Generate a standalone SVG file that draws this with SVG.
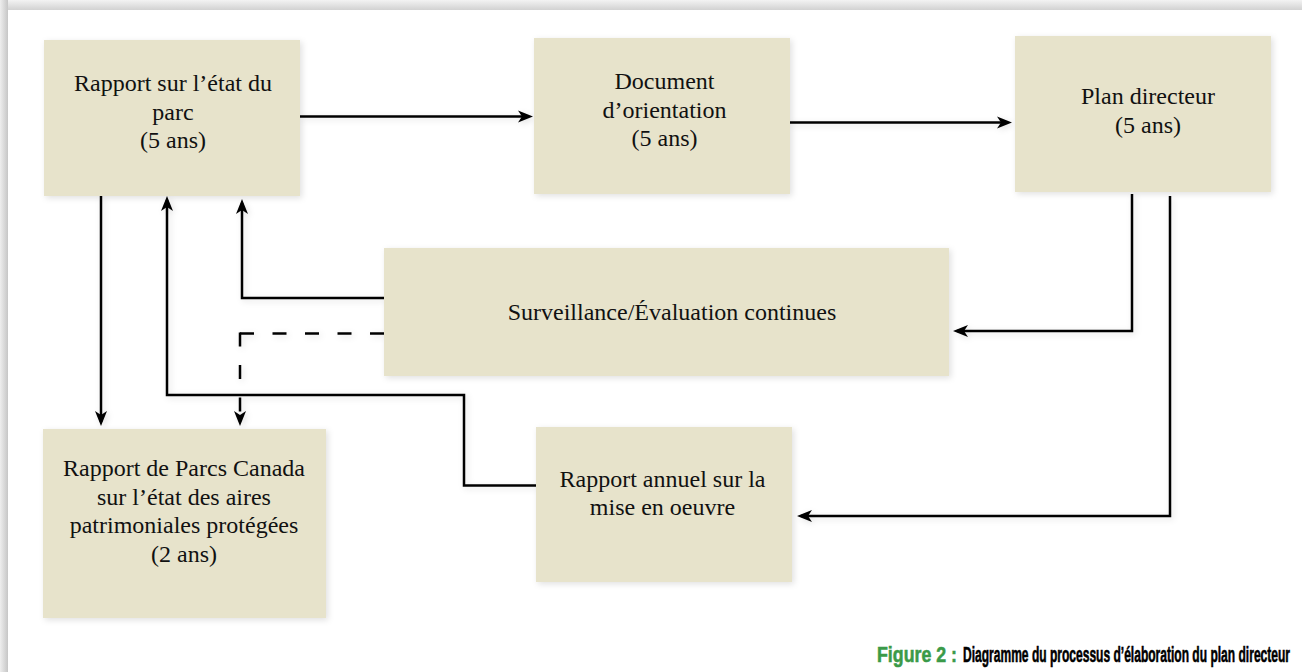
<svg xmlns="http://www.w3.org/2000/svg" width="1302" height="672" viewBox="0 0 1302 672">
<defs>
<linearGradient id="gTop" x1="0" y1="0" x2="0" y2="1"><stop offset="0" stop-color="#f3f3f3"/><stop offset="1" stop-color="#d2d2d2"/></linearGradient>
<linearGradient id="gLeft" x1="0" y1="0" x2="1" y2="0"><stop offset="0" stop-color="#eeeeee"/><stop offset="1" stop-color="#c6c6c6"/></linearGradient>
<filter id="sh" x="-10%" y="-10%" width="120%" height="120%"><feDropShadow dx="2" dy="2" stdDeviation="3" flood-color="#000" flood-opacity="0.12"/></filter>
<marker id="ah" markerUnits="userSpaceOnUse" markerWidth="16" markerHeight="14" refX="11" refY="7" orient="auto"><path d="M0,1 L15,7 L0,13 L4,7 Z" fill="#000"/></marker>
<style>
.box{fill:#e7e3cb;filter:url(#sh)}
.lbl{font-family:"Liberation Serif","Times New Roman",serif;font-size:24px;fill:#111;text-anchor:middle}
.ln{fill:none;stroke:#000;stroke-width:2.5}
.arr{marker-end:url(#ah)}
.dash{stroke-dasharray:14 18.5}
.cap{font-family:"Liberation Sans",Arial,sans-serif;font-weight:bold;font-size:11.6px;fill:#000;stroke:#000;stroke-width:0.3}
.capg{fill:#3a9a48;stroke:#3a9a48}
</style>
</defs>
<rect width="1302" height="672" fill="#ffffff"/>
<rect x="0" y="0" width="1302" height="10" fill="url(#gTop)"/>
<rect x="0" y="0" width="8" height="672" fill="url(#gLeft)"/>

<g id="connectors" filter="url(#sh)">
<path class="ln arr" d="M300,116.5 H529"/>
<path class="ln arr" d="M790,122.5 H1008"/>
<path class="ln arr" d="M101,196 V422"/>
<path class="ln arr" d="M536,485.5 H464 V395 H167 V200"/>
<path class="ln arr" d="M384,298 H242 V203"/>
<path class="ln dash" d="M384,333.5 H240"/>
<path class="ln dash arr" d="M240,332.5 V422"/>
<path class="ln arr" d="M1132,194 V331 H957"/>
<path class="ln arr" d="M1170,196 V516 H801"/>
</g>

<g id="n-rapport-etat">
<rect class="box" x="44" y="40" width="256" height="156"/>
<text class="lbl"><tspan x="173" y="91">Rapport sur l’état du</tspan><tspan x="173" y="119.5">parc</tspan><tspan x="173" y="148">(5 ans)</tspan></text>
</g>
<g id="n-document">
<rect class="box" x="534" y="38" width="256" height="156"/>
<text class="lbl"><tspan x="664.5" y="89">Document</tspan><tspan x="664.5" y="117.5">d’orientation</tspan><tspan x="664.5" y="146">(5 ans)</tspan></text>
</g>
<g id="n-plan">
<rect class="box" x="1015" y="36" width="256" height="156"/>
<text class="lbl"><tspan x="1148" y="104">Plan directeur</tspan><tspan x="1148" y="133">(5 ans)</tspan></text>
</g>
<g id="n-surveillance">
<rect class="box" x="384" y="248" width="565" height="128"/>
<text class="lbl" x="672" y="320">Surveillance/Évaluation continues</text>
</g>
<g id="n-rapport-parcs">
<rect class="box" x="43" y="429" width="283" height="189"/>
<text class="lbl"><tspan x="184" y="476">Rapport de Parcs Canada</tspan><tspan x="184" y="504.5">sur l’état des aires</tspan><tspan x="184" y="533">patrimoniales protégées</tspan><tspan x="184" y="561.5">(2 ans)</tspan></text>
</g>
<g id="n-rapport-annuel">
<rect class="box" x="536" y="427" width="256" height="155"/>
<text class="lbl"><tspan x="662.5" y="486.5">Rapport annuel sur la</tspan><tspan x="662.5" y="515">mise en oeuvre</tspan></text>
</g>

<g id="caption">
<text class="cap capg" transform="translate(877,662) scale(1,1.9)" x="0" y="0" textLength="80" lengthAdjust="spacingAndGlyphs">Figure 2 :</text>
<text class="cap" transform="translate(963,662) scale(1,1.9)" x="0" y="0" textLength="327" lengthAdjust="spacingAndGlyphs">Diagramme du processus d’élaboration du plan directeur</text>
</g>
</svg>
